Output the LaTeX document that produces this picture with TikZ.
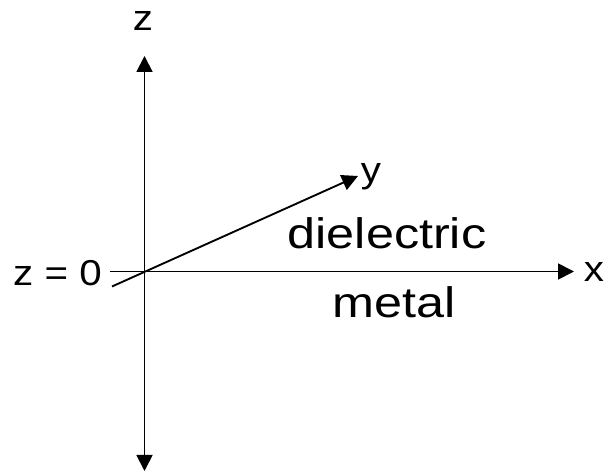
\documentclass[tikz,border=0pt]{standalone}
\usepackage{fontspec}
\setmainfont{Liberation Sans}
\usetikzlibrary{arrows.meta,positioning}

\begin{document}
\begin{tikzpicture}[x=0.75pt, y=-0.75pt,
    axis/.style={-{Triangle[length=12pt, width=12pt]}, line width=1.4pt},
    small/.style={font=\fontsize{27}{30}\selectfont, xscale=1.12, inner sep=0pt},
    big/.style={font=\fontsize{32}{36}\selectfont, xscale=1.18, inner sep=0pt}]
  \useasboundingbox (0,0) rectangle (604,473);
  % axes
  \coordinate (O) at (144.5,271.5);
  \coordinate (ztop) at (144.5,56);
  \coordinate (zbot) at (144.5,471);
  \coordinate (xstart) at (110,271.5);
  \coordinate (xend) at (574,271.5);
  \coordinate (ystart) at (112,286.5);
  \coordinate (yend) at (358,176);
  \draw[axis] (O) -- (ztop);
  \draw[axis] (O) -- (zbot);
  \draw[axis] (xstart) -- (xend);
  \draw[axis] (ystart) -- (yend);
  % labels
  \node[small] (zlab) at (143,21) {z};
  \node[small] (xlab) at (594,272) {x};
  \node[small] (ylab) at (371,177) {y};
  \node[small] (zzero) at (57.5,273) {z = 0};
  \node[big] (diel) at (387,233.5) {dielectric};
  \node[big] (metal) at (394.5,302) {metal};
\end{tikzpicture}
\end{document}
